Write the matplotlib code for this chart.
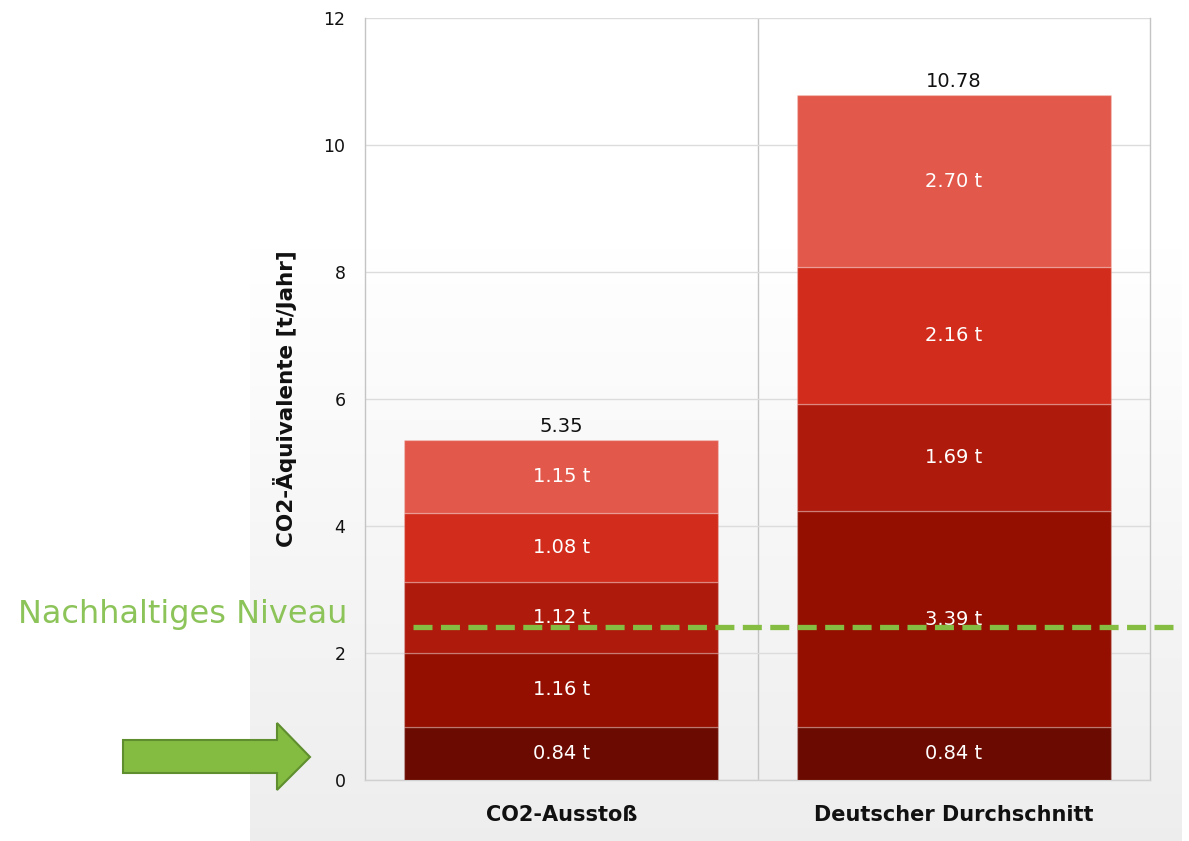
import numpy as np
import matplotlib
matplotlib.use("Agg")
import matplotlib.pyplot as plt
from matplotlib.patches import Polygon

plt.rcParams['font.family'] = ['DejaVu Sans']

# Daten (t CO2-Äquivalente pro Jahr), von unten nach oben gestapelt
kategorien = ['CO2-Ausstoß', 'Deutscher Durchschnitt']
schicht_1 = [0.84, 0.84]
schicht_2 = [1.16, 3.39]
schicht_3 = [1.12, 1.69]
schicht_4 = [1.08, 2.16]
schicht_5 = [1.15, 2.70]
schichten = [schicht_1, schicht_2, schicht_3, schicht_4, schicht_5]
farben = ['#6b0a00', '#940f00', '#ae1b0d', '#d22d1c', '#e2584a']
nachhaltig = 2.41
y_ticks = [0, 2, 4, 6, 8, 10, 12]

W, H = 1189, 841
fig = plt.figure(figsize=(W / 100, H / 100), dpi=100)
fig.patch.set_facecolor('white')

# grauer Verlauf hinter dem Diagramm
bg = fig.add_axes([250 / W, 0, 932 / W, 1])
bg.set_axis_off()
rows = np.linspace(0, 1, 400)
grad = np.where(rows < 250 / H, 1.0, 1.0 - 0.068 * (rows - 250 / H) / (1 - 250 / H))
img = np.repeat(grad[:, None, None], 3, axis=2)
bg.imshow(img, aspect='auto', extent=[0, 1, 0, 1], interpolation='bilinear')

ax = fig.add_axes([365 / W, 1 - 780 / H, 785 / W, 762 / H])
ax.set_facecolor('none')

x = np.arange(len(kategorien))
unten = np.zeros(len(kategorien))
for werte, farbe in zip(schichten, farben):
    werte = np.array(werte)
    ax.bar(x, werte, bottom=unten, width=0.8, color=farbe,
           edgecolor=(1, 1, 1, 0.22), linewidth=1, zorder=3)
    for xi, b, v in zip(x, unten, werte):
        ax.text(xi, b + v / 2, f'{v:.2f} t', ha='center', va='center',
                color='white', fontsize=14, zorder=4)
    unten = unten + werte

for xi, tot in zip(x, unten):
    ax.annotate(f'{tot:.2f}', (xi, tot), xytext=(0, 3), textcoords='offset points',
                ha='center', va='bottom', fontsize=14, color='#111111')

ax.set_xlim(-0.5, 1.5)
ax.set_ylim(0, 12)
ax.set_yticks(y_ticks)
ax.set_xticks(x)
ax.set_xticklabels(kategorien, fontweight='bold', fontsize=15, color='#111111')
ax.tick_params(axis='y', length=0, pad=14, labelsize=12.5, labelcolor='#111111')
ax.tick_params(axis='x', length=0, pad=18)
ax.grid(axis='y', color='#dcdcdc', linewidth=1, zorder=0)
ax.axvline(0.5, color='#c4c4c4', linewidth=1, zorder=1)
for s in ax.spines.values():
    s.set_color('#c4c4c4')
    s.set_linewidth(1)
ax.spines['bottom'].set_color('#d0d0d0')
ax.spines['top'].set_visible(False)

ax.set_ylabel('CO2-Äquivalente [t/Jahr]', fontweight='bold', fontsize=15.5, color='#111111')
ax.yaxis.set_label_coords(-0.086, 0.5)

# nachhaltiges Niveau
ax.axhline(nachhaltig, xmin=0.061, xmax=1.038, color='#84bd41', linewidth=3.8,
           linestyle=(0, (3.6, 1.6)), clip_on=False, zorder=5)
fig.text(18 / W, 1 - 614 / H, 'Nachhaltiges Niveau', color='#8dc45a',
         fontsize=23, ha='left', va='center')

# Pfeil
pts = [(123, 740), (277, 740), (277, 723), (310, 757), (277, 790), (277, 773), (123, 773)]
pfeil = Polygon([(px / W, 1 - py / H) for px, py in pts], closed=True,
                transform=fig.transFigure, facecolor='#84bb41', edgecolor='#5f8e2f',
                linewidth=1.5)
fig.patches.append(pfeil)

fig.savefig('out.png', dpi=100)
